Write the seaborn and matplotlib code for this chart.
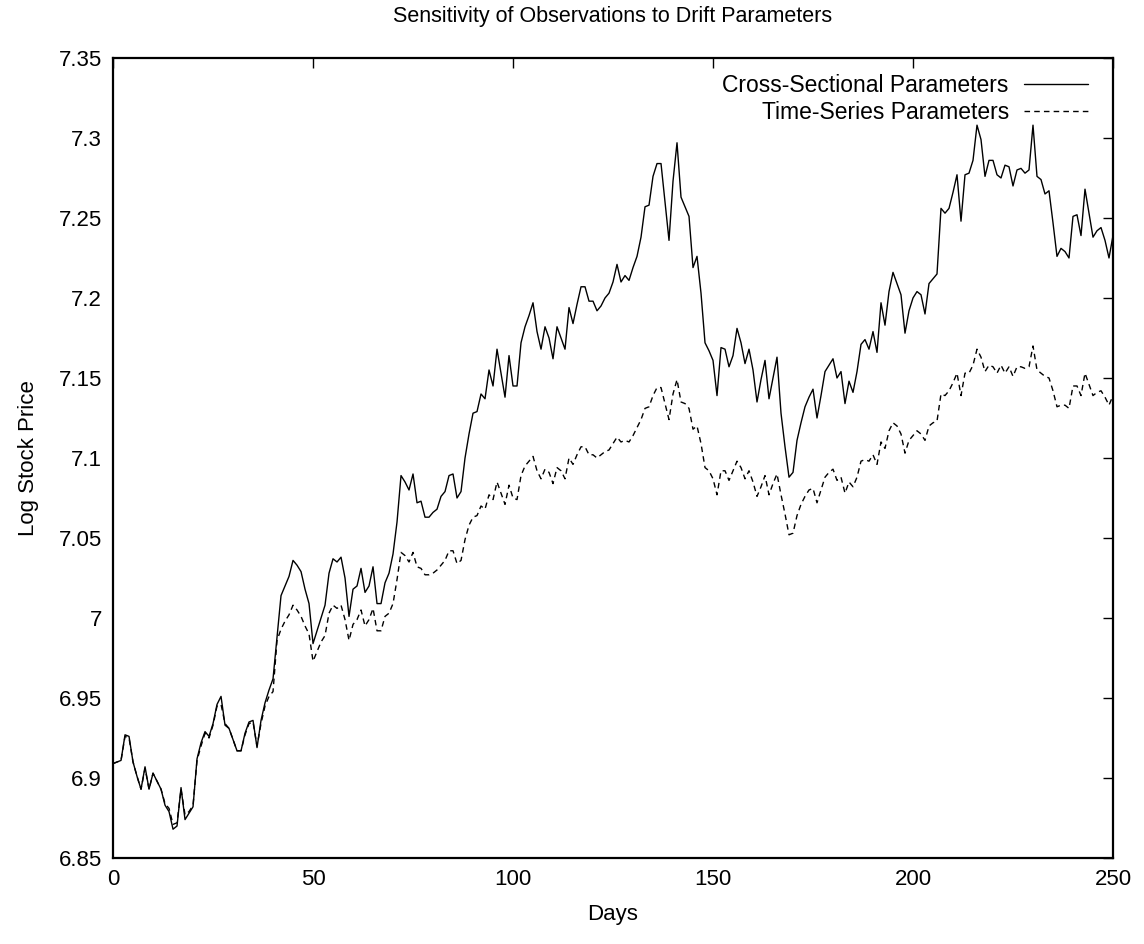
import matplotlib
matplotlib.use("Agg")
import matplotlib.pyplot as plt
import matplotlib.ticker as mticker
import seaborn as sns
import pandas as pd

# Log stock price per day under the two drift-parameter sets
days = list(range(251))

cross_sectional = [
    6.909, 6.910, 6.911, 6.927, 6.926, 6.910, 6.901, 6.893, 6.907, 6.893,
    6.903, 6.898, 6.893, 6.883, 6.879, 6.868, 6.870, 6.894, 6.874, 6.878,
    6.882, 6.912, 6.922, 6.929, 6.926, 6.934, 6.946, 6.951, 6.933, 6.931,
    6.924, 6.917, 6.917, 6.928, 6.935, 6.936, 6.919, 6.936, 6.947, 6.955,
    6.962, 6.988, 7.014, 7.020, 7.026, 7.036, 7.033, 7.029, 7.018, 7.009,
    6.984, 6.992, 7.000, 7.008, 7.028, 7.037, 7.035, 7.038, 7.025, 7.001,
    7.018, 7.020, 7.031, 7.016, 7.020, 7.032, 7.009, 7.009, 7.022, 7.028,
    7.040, 7.060, 7.089, 7.085, 7.080, 7.090, 7.072, 7.073, 7.063, 7.063,
    7.066, 7.068, 7.076, 7.079, 7.089, 7.090, 7.075, 7.079, 7.100, 7.115,
    7.128, 7.129, 7.140, 7.137, 7.155, 7.145, 7.168, 7.153, 7.138, 7.164,
    7.145, 7.145, 7.172, 7.182, 7.189, 7.197, 7.179, 7.168, 7.182, 7.175,
    7.162, 7.182, 7.175, 7.168, 7.194, 7.184, 7.196, 7.207, 7.207, 7.198,
    7.198, 7.192, 7.195, 7.200, 7.203, 7.210, 7.221, 7.210, 7.214, 7.211,
    7.219, 7.226, 7.238, 7.257, 7.258, 7.276, 7.284, 7.284, 7.260, 7.236,
    7.273, 7.297, 7.263, 7.257, 7.251, 7.219, 7.226, 7.203, 7.172, 7.167,
    7.161, 7.139, 7.169, 7.168, 7.157, 7.164, 7.181, 7.172, 7.159, 7.168,
    7.155, 7.135, 7.149, 7.161, 7.137, 7.150, 7.163, 7.128, 7.107, 7.088,
    7.091, 7.111, 7.122, 7.132, 7.138, 7.143, 7.125, 7.139, 7.154, 7.158,
    7.162, 7.150, 7.154, 7.134, 7.148, 7.141, 7.154, 7.171, 7.174, 7.168,
    7.179, 7.166, 7.197, 7.183, 7.204, 7.216, 7.209, 7.202, 7.178, 7.192,
    7.200, 7.204, 7.202, 7.190, 7.209, 7.212, 7.215, 7.256, 7.253, 7.256,
    7.266, 7.277, 7.248, 7.277, 7.278, 7.286, 7.308, 7.299, 7.276, 7.286,
    7.286, 7.277, 7.275, 7.283, 7.282, 7.270, 7.280, 7.281, 7.278, 7.280,
    7.308, 7.276, 7.274, 7.265, 7.267, 7.247, 7.226, 7.231, 7.229, 7.225,
    7.251, 7.252, 7.239, 7.268, 7.253, 7.238, 7.242, 7.244, 7.236, 7.225,
    7.239,
]

time_series = [
    6.909, 6.910, 6.911, 6.926, 6.925, 6.910, 6.901, 6.893, 6.906, 6.893,
    6.903, 6.898, 6.893, 6.884, 6.881, 6.871, 6.872, 6.893, 6.877, 6.879,
    6.883, 6.911, 6.920, 6.928, 6.925, 6.933, 6.945, 6.946, 6.934, 6.931,
    6.924, 6.917, 6.917, 6.927, 6.934, 6.935, 6.920, 6.934, 6.945, 6.951,
    6.954, 6.986, 6.993, 6.998, 7.002, 7.008, 7.005, 7.001, 6.995, 6.990,
    6.973, 6.979, 6.985, 6.989, 7.003, 7.008, 7.006, 7.008, 6.999, 6.986,
    6.996, 6.999, 7.005, 6.995, 6.999, 7.006, 6.992, 6.992, 7.001, 7.003,
    7.009, 7.024, 7.041, 7.039, 7.035, 7.041, 7.032, 7.031, 7.027, 7.027,
    7.028, 7.030, 7.033, 7.036, 7.042, 7.042, 7.034, 7.036, 7.049, 7.058,
    7.063, 7.064, 7.070, 7.068, 7.077, 7.074, 7.085, 7.078, 7.071, 7.083,
    7.075, 7.074, 7.089, 7.095, 7.098, 7.101, 7.092, 7.087, 7.093, 7.091,
    7.084, 7.094, 7.092, 7.087, 7.100, 7.096, 7.102, 7.107, 7.107, 7.102,
    7.102, 7.100, 7.102, 7.104, 7.105, 7.109, 7.113, 7.110, 7.111, 7.110,
    7.114, 7.119, 7.124, 7.131, 7.132, 7.139, 7.144, 7.144, 7.134, 7.124,
    7.140, 7.149, 7.135, 7.134, 7.131, 7.118, 7.120, 7.109, 7.094, 7.092,
    7.087, 7.077, 7.092, 7.092, 7.086, 7.092, 7.098, 7.094, 7.087, 7.092,
    7.085, 7.076, 7.082, 7.089, 7.077, 7.084, 7.090, 7.077, 7.065, 7.052,
    7.053, 7.064, 7.071, 7.076, 7.080, 7.081, 7.072, 7.080, 7.088, 7.091,
    7.093, 7.086, 7.088, 7.078, 7.085, 7.082, 7.088, 7.098, 7.099, 7.098,
    7.102, 7.096, 7.110, 7.106, 7.117, 7.122, 7.120, 7.115, 7.103, 7.111,
    7.114, 7.117, 7.115, 7.111, 7.120, 7.122, 7.123, 7.140, 7.139, 7.142,
    7.147, 7.153, 7.139, 7.153, 7.153, 7.158, 7.168, 7.163, 7.154, 7.158,
    7.157, 7.153, 7.158, 7.153, 7.157, 7.151, 7.157, 7.157, 7.156, 7.157,
    7.170, 7.155, 7.153, 7.151, 7.150, 7.142, 7.132, 7.133, 7.133, 7.131,
    7.145, 7.145, 7.139, 7.153, 7.146, 7.139, 7.141, 7.142, 7.138, 7.133,
    7.139,
]

df = pd.DataFrame({"Days": days, "cs": cross_sectional, "ts": time_series})

sns.set_style("white")
plt.rcParams["font.family"] = ["Liberation Sans", "DejaVu Sans"]
plt.rcParams["text.color"] = "black"
plt.rcParams["axes.labelcolor"] = "black"

fig = plt.figure(figsize=(11.44, 9.44), dpi=100)
ax = fig.add_axes([0.0988, 0.0911, 0.8741, 0.8475])

sns.lineplot(data=df, x="Days", y="cs", color="black", linewidth=1.0,
             label="Cross-Sectional Parameters", ax=ax)
sns.lineplot(data=df, x="Days", y="ts", color="black", linewidth=1.0,
             linestyle=(0, (4, 3)), label="Time-Series Parameters", ax=ax)

ax.set_xlim(0, 250)
ax.set_ylim(6.85, 7.35)
ax.xaxis.set_major_locator(mticker.MultipleLocator(50))
ax.yaxis.set_major_locator(mticker.MultipleLocator(0.05))
ax.yaxis.set_major_formatter(mticker.FuncFormatter(lambda v, p: f"{v:g}"))
ax.tick_params(direction="in", length=7, width=1.0, labelsize=16,
               top=True, right=True, pad=8, colors="black")

for s in ax.spines.values():
    s.set_linewidth(1.6)
    s.set_color("black")

ax.set_xlabel("Days", fontsize=16, labelpad=10, color="black")
ax.set_ylabel("Log Stock Price", fontsize=16, labelpad=14, color="black")
ax.set_title("Sensitivity of Observations to Drift Parameters", fontsize=15.5,
             pad=26, color="black")

leg = ax.legend(loc="upper right", bbox_to_anchor=(0.984, 0.991), frameon=False,
                markerfirst=False, fontsize=16.5, handlelength=2.8,
                handletextpad=0.65, labelspacing=0.18, borderaxespad=0.0)
for t in leg.get_texts():
    t.set_color("black")

plt.savefig("out.png", dpi=100)
